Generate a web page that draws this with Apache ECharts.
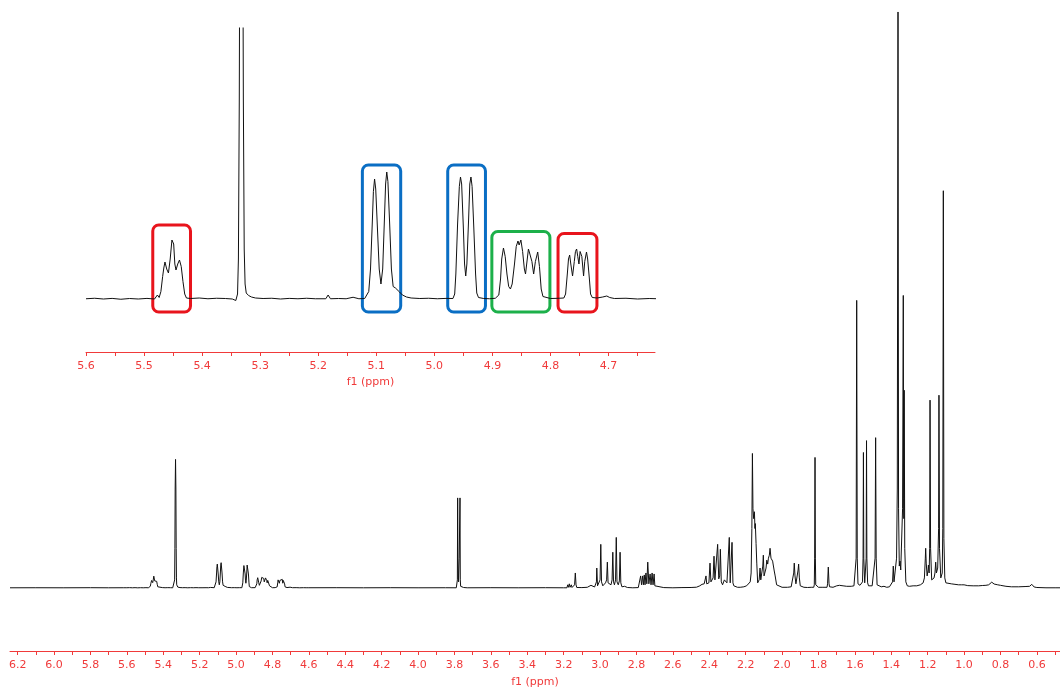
<!DOCTYPE html>
<html><head><meta charset="utf-8">
<script src="https://cdn.jsdelivr.net/npm/echarts@6/dist/echarts.min.js"></script>
<style>html,body{margin:0;padding:0;background:#fff}#c{width:1060px;height:693px}</style>
</head><body><div id="c"></div>
<script>
// ---- spectrum trace, [ppm, intensity] ----
const traceLeft = [[6.242,0],[6.10,0.05],[5.95,0],[5.80,0.1],[5.70,0],[5.62,0.05]];
const traceInset = [
[5.600,0.05],[5.585,0.15],[5.570,0],[5.555,0.12],[5.540,-0.05],[5.525,0.1],[5.510,0],[5.495,0.12],[5.482,0],[5.477,0.8],[5.474,0.3],
[5.471,1.5],[5.468,4.5],[5.466,6.2],[5.464,7.4],[5.461,6],[5.458,5.2],[5.455,8],[5.452,11.8],[5.451,12.2],[5.449,11],[5.447,7],[5.445,5.8],
[5.442,7],[5.439,7.8],[5.436,6.5],[5.433,3.5],[5.430,1],[5.427,0.2],[5.420,0.1],[5.405,0.2],[5.390,0.05],[5.375,0.15],[5.360,0.1],[5.348,0],
[5.342,-0.3],[5.339,1],[5.3375,8],[5.336,40],[5.3345,100],[5.3325,130],[5.3305,100],[5.329,40],[5.3275,10],[5.326,3],[5.324,1.2],[5.320,0.7],
[5.315,0.4],[5.308,0.2],[5.295,0.1],[5.280,0.15],[5.265,0],[5.250,0.12],[5.235,0.05],[5.220,0.15],[5.205,0.05],[5.187,0.05],[5.183,0.8],[5.179,0.05],
[5.165,0.1],[5.152,0.05],[5.140,0.35],[5.130,0.05],[5.120,0.1],
[5.117,0.2],[5.113,1.5],[5.110,6],[5.107,15],[5.105,21.5],[5.103,24],[5.101,22],[5.098,14],[5.095,6],[5.092,3],[5.089,6],[5.086,16],[5.084,23],
[5.082,25.4],[5.080,23.5],[5.077,15],[5.074,6],[5.071,2.5],[5.067,2.2],[5.064,2.6],[5.060,1.4],[5.055,0.8],[5.048,0.4],[5.040,0.2],[5.025,0.1],
[5.010,0.15],[4.995,0.05],[4.980,0.12],
[4.968,0.1],[4.965,1],[4.963,5],[4.960,15],[4.957,22.5],[4.955,24.4],[4.953,23],[4.950,14],[4.948,7],[4.946,4.6],[4.944,7],[4.941,16],[4.939,23],
[4.937,24.4],[4.935,22.5],[4.932,14],[4.929,5],[4.927,1.2],[4.924,0.3],[4.915,0.1],[4.905,0.05],[4.895,0.15],
[4.892,0.1],[4.889,0.8],[4.886,4],[4.884,8],[4.881,10.2],[4.878,8.5],[4.875,5],[4.872,2.5],[4.869,2],[4.866,3],[4.862,7],[4.859,10.5],[4.856,11.6],
[4.854,10.8],[4.851,11.8],[4.848,9.5],[4.845,6],[4.843,5],[4.841,7],[4.838,10],[4.836,9.2],[4.834,9.6],[4.832,7.5],[4.829,5],[4.826,7.5],[4.822,9.4],
[4.819,6.5],[4.816,2],[4.813,0.5],[4.810,0.2],[4.800,0.1],[4.785,0.15],
[4.777,0.2],[4.774,1],[4.771,5],[4.769,8],[4.767,8.8],[4.765,7],[4.762,4.6],[4.759,7.5],[4.757,9.5],[4.755,10],[4.753,8.5],[4.751,7],[4.749,9.5],
[4.748,9.8],[4.746,8.5],[4.743,4.6],[4.741,7.5],[4.738,9.4],[4.736,8],[4.733,4],[4.731,1],[4.728,0.3],[4.720,0.2],[4.710,0.4],[4.703,0.6],
[4.698,0.3],[4.690,0.1],[4.670,0.15],[4.650,0],[4.630,0.1],[4.615,0.05]];
const traceMid = [
[4.60,0.05],[4.45,0.1],[4.30,0],[4.15,0.1],[4.00,0],[3.85,0.05],[3.790,0],[3.786,1],[3.784,8],[3.7825,91],[3.781,30],[3.7775,6],[3.774,30],
[3.7695,91],[3.768,8],[3.766,1.5],[3.760,0.5],[3.750,0.3],[3.73,0],[3.60,0.1],[3.45,0],[3.30,0.1],[3.20,0],
[3.182,0],[3.178,3],[3.174,0.5],[3.169,4],[3.165,0.5],[3.158,3],[3.154,0.3],[3.145,0.3],[3.140,3],[3.136,15],[3.132,3],[3.128,0.3],
[3.100,0.2],[3.070,0.5],[3.066,2],[3.060,0.5],[3.050,2.5],[3.045,0.5],[3.040,2.5],[3.030,0.8],
[3.024,2],[3.020,6],[3.018,20],[3.014,2],[3.006,2],[3.000,8],[2.996,44],[2.992,6],[2.985,2],[2.978,3],[2.970,5],[2.964,8],[2.960,26],[2.956,5],
[2.948,3],[2.940,3],[2.934,8],[2.930,36],[2.926,6],[2.921,3],[2.915,8],[2.911,51],[2.907,6],[2.900,3],[2.894,7],[2.890,36],[2.886,5],[2.880,1],
[2.870,1.5],[2.865,1.5],[2.860,0.5],[2.850,0.3],[2.820,0],[2.790,0.2],
[2.785,0.3],[2.781,2],[2.777,12],[2.772,3],[2.766,12],[2.762,3],[2.757,13],[2.753,3],[2.748,15],[2.743,4],[2.738,26],[2.732,4],[2.725,14],[2.720,3],
[2.714,15],[2.709,3],[2.703,14],[2.699,2],[2.694,0.3],[2.65,0.2],[2.60,0]];
const traceRight = [
[2.55,0.2],[2.50,0.3],[2.47,0.6],[2.460,0.8],[2.452,2],[2.446,1.5],[2.440,3.5],[2.434,2],[2.428,4],[2.423,3],[2.418,12],[2.414,4],[2.407,6],[2.402,5],
[2.396,25],[2.391,6],[2.385,8],[2.379,10],[2.374,32],[2.369,8],[2.360,10],[2.354,44],[2.348,9],[2.343,12],[2.339,39],[2.334,6],[2.327,3],[2.322,5],
[2.317,8],[2.312,6],[2.308,10],[2.303,5],[2.296,6],[2.290,51],[2.285,5],[2.280,7],[2.275,46],[2.270,5],[2.265,2],[2.255,1],[2.245,0.5],[2.230,0.5],
[2.210,1],[2.195,2],[2.185,3],[2.175,6],[2.170,15],[2.166,60],[2.163,136],[2.160,80],[2.156,70],[2.152,77],[2.149,60],[2.147,65],[2.143,45],
[2.139,25],[2.134,5],[2.130,3],[2.126,8],[2.121,20],[2.117,8],[2.112,10],[2.106,22],[2.103,33],[2.099,12],[2.093,14],[2.088,20],[2.084,28],
[2.079,24],[2.075,30],[2.070,33],[2.066,40],[2.061,30],[2.057,32],[2.052,27],[2.048,27],[2.043,17],[2.038,12],[2.030,3],[2.025,1],[2.000,0.5],
[1.970,0.5],[1.950,1],[1.945,1],[1.940,3],[1.936,15],[1.933,25],[1.929,12],[1.924,4],[1.920,3.5],[1.916,6],[1.912,18],[1.909,24],[1.905,10],
[1.900,2],[1.895,0.8],[1.880,0.5],[1.860,0.3],[1.840,0.5],[1.826,0.5],[1.823,3],[1.821,30],[1.819,132],[1.817,30],[1.815,3],[1.812,1],[1.800,0.5],
[1.780,0.5],[1.753,0.5],[1.750,4],[1.746,21],[1.742,4],[1.739,1],[1.730,0.5],[1.720,0.5],[1.700,2],[1.695,1],[1.685,2.5],[1.675,1],[1.665,2],
[1.655,1],[1.645,1.5],[1.635,1],[1.620,1.5],[1.610,2],[1.605,2],[1.597,4],[1.593,30],[1.590,291],[1.587,30],[1.583,4],[1.578,2],[1.572,2.5],
[1.565,3],[1.558,6],[1.555,30],[1.553,137],[1.551,30],[1.546,5],[1.541,6],[1.538,30],[1.536,149],[1.534,30],[1.530,5],[1.525,2],[1.515,3],
[1.505,2],[1.495,4],[1.489,30],[1.486,152],[1.483,30],[1.478,3],[1.470,1.5],[1.455,1],[1.440,1.5],[1.425,0.5],[1.410,1],[1.400,2],[1.393,6],
[1.389,22],[1.385,6],[1.380,7],[1.376,5],[1.371,30],[1.367,100],[1.363,583],[1.360,80],[1.356,22],[1.352,27],[1.348,18],[1.344,20],[1.338,80],
[1.334,296],[1.332,90],[1.331,70],[1.329,200],[1.326,40],[1.320,6],[1.312,2],[1.300,1.5],[1.280,2],[1.260,2],[1.240,3],[1.225,5],[1.218,10],
[1.213,30],[1.211,40],[1.208,25],[1.203,12],[1.198,18],[1.196,23],[1.192,15],[1.189,40],[1.187,190],[1.184,40],[1.178,8],[1.172,6],[1.165,10],
[1.160,15],[1.156,26],[1.152,15],[1.145,20],[1.140,60],[1.138,195],[1.135,40],[1.128,10],[1.120,15],[1.117,60],[1.114,402],[1.111,50],[1.106,10],
[1.100,5],[1.090,4],[1.070,4],[1.050,3.5],[1.030,3],[1.015,3],[1.008,4.5],[1.000,3],[0.980,2.2],[0.950,2],[0.920,2],[0.900,2.3],[0.880,2.5],
[0.865,3],[0.855,4],[0.848,5.7],[0.842,4],[0.835,3.8],[0.825,3],[0.815,3],[0.800,2.5],[0.790,2.5],[0.770,1.5],[0.740,1],[0.700,1],[0.660,1.3],
[0.640,1.5],[0.632,2.5],[0.628,3.5],[0.624,2],[0.615,0.8],[0.600,0.3],[0.550,0],[0.500,0],[0.473,0]];

// ---- axes ----
const mainRange = [0.473, 6.242];
const mainLabels = [6.2,6.0,5.8,5.6,5.4,5.2,5.0,4.8,4.6,4.4,4.2,4.0,3.8,3.6,3.4,3.2,3.0,2.8,2.6,2.4,2.2,2.0,1.8,1.6,1.4,1.2,1.0,0.8,0.6];
const mainTicks = [6.2,6.1,6.0,5.9,5.8,5.7,5.6,5.5,5.4,5.3,5.2,5.1,5.0,4.9,4.8,4.7,4.6,4.5,4.4,4.3,4.2,4.1,4.0,3.9,3.8,3.7,3.6,3.5,3.4,3.3,3.2,3.1,3.0,2.9,2.8,2.7,2.6,2.5,2.4,2.3,2.2,2.1,2.0,1.9,1.8,1.7,1.6,1.5,1.4,1.3,1.2,1.1,1.0,0.9,0.8,0.7,0.6,0.5];
const insetRange = [4.62, 5.6];
const insetLabels = [5.6,5.5,5.4,5.3,5.2,5.1,5.0,4.9,4.8,4.7];
const insetTicks = [5.6,5.55,5.5,5.45,5.4,5.35,5.3,5.25,5.2,5.15,5.1,5.05,5.0,4.95,4.9,4.85,4.8,4.75,4.7,4.65];
// highlight boxes: [ppm left, ppm right, intensity bottom, intensity top, colour]
const boxes = [
  [5.485,5.420,-2.6,14.8,'#e8141c'],
  [5.124,5.058,-2.6,26.8,'#0a6ec4'],
  [4.977,4.912,-2.6,26.8,'#0a6ec4'],
  [4.901,4.801,-2.6,13.5,'#1cb04a'],
  [4.787,4.720,-2.6,13.1,'#e8141c']
];

const red = '#f03a3a';
const font = 'DejaVu Sans';
const fullTrace = traceLeft.concat(traceInset, traceMid, traceRight);
function axis(idx, range, labels, ticks, gap){
  return {
    type:'value', gridIndex: idx, inverse:true, min: range[0], max: range[1],
    axisLine:{show:true, onZero:false, lineStyle:{color:red, width:1}},
    axisTick:{show:true, inside:false, length:4, lineStyle:{color:red}, customValues: ticks},
    axisLabel:{color:red, fontFamily:font, fontSize:11, margin:9, customValues: labels, formatter: v => v.toFixed(1)},
    splitLine:{show:false}, minorTick:{show:false},
    name:'f1 (ppm)', nameLocation:'middle', nameGap:gap,
    nameTextStyle:{color:red, fontFamily:font, fontSize:11}
  };
}
const chart = echarts.init(document.getElementById('c'), null, {renderer:'canvas'});
chart.setOption({
  animation:false,
  backgroundColor:'#fff',
  grid:[
    {left:10, right:0, top:10, bottom:34},
    {left:86, right:405, top:28, bottom:341}
  ],
  xAxis:[ axis(0, mainRange, mainLabels, mainTicks, 26), axis(1, insetRange, insetLabels, insetTicks, 25) ],
  yAxis:[
    {type:'value', gridIndex:0, min:-64, max:585, show:false},
    {type:'value', gridIndex:1, min:-10.6, max:54.2, show:false}
  ],
  series:[
    {type:'line', xAxisIndex:0, yAxisIndex:0, data: fullTrace, symbol:'none', lineStyle:{color:'#111', width:1}, clip:true},
    {type:'line', xAxisIndex:1, yAxisIndex:1, data: traceInset, symbol:'none', lineStyle:{color:'#111', width:1}, clip:true},
    {type:'custom', xAxisIndex:1, yAxisIndex:1, data: boxes, clip:false,
     renderItem:(params, api) => {
       const b = boxes[params.dataIndex];
       const p1 = api.coord([b[0], b[3]]);
       const p2 = api.coord([b[1], b[2]]);
       return {type:'rect',
         shape:{x:Math.min(p1[0],p2[0]), y:Math.min(p1[1],p2[1]), width:Math.abs(p2[0]-p1[0]), height:Math.abs(p2[1]-p1[1]), r:6},
         style:{fill:'none', stroke:b[4], lineWidth:3}};
     }}
  ]
});
</script></body></html>
